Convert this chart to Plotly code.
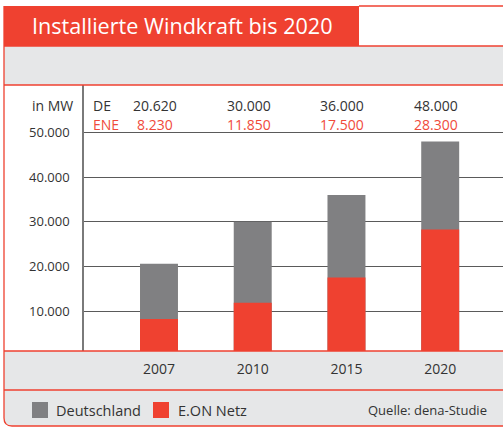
import plotly.graph_objects as go

years = ["2007", "2010", "2015", "2020"]
de_values = [20620, 30000, 36000, 48000]
ene_values = [8230, 11850, 17500, 28300]
de_labels = ["20.620", "30.000", "36.000", "48.000"]
ene_labels = ["8.230", "11.850", "17.500", "28.300"]
y_tickvals = [10000, 20000, 30000, 40000, 50000]
y_ticktext = ["10.000", "20.000", "30.000", "40.000", "50.000"]

W, H = 503, 427
RED = "#EF4130"
RED_TXT = "#F04A3B"
GRAYBAR = "#808082"
BAND = "#E6E7E8"
TXT = "#333333"
FONT = "Open Sans"


def px(x):
    return x / W


def py(y):
    return 1 - y / H


fig = go.Figure()
fig.add_trace(go.Bar(x=years, y=de_values, name="Deutschland", marker_color=GRAYBAR,
                     marker_line_width=0, width=0.405))
fig.add_trace(go.Bar(x=years, y=ene_values, name="E.ON Netz", marker_color=RED,
                     marker_line_width=0, width=0.405))

shapes = []
# title box
shapes.append(dict(type="rect", xref="paper", yref="paper", x0=px(4), x1=px(359), y0=py(46), y1=py(6),
                   fillcolor=RED, line_width=0, layer="below"))
# top gray band
shapes.append(dict(type="rect", xref="paper", yref="paper", x0=px(4), x1=px(503), y0=py(85), y1=py(46),
                   fillcolor=BAND, line_width=0, layer="below"))
# bottom gray band with rounded corner
path = (f"M{px(4)},{py(351)} L{px(503)},{py(351)} L{px(503)},{py(426)} "
        f"L{px(12)},{py(426)} Q{px(4)},{py(426)} {px(4)},{py(418)} Z")
shapes.append(dict(type="path", xref="paper", yref="paper", path=path, fillcolor=BAND, line_width=0,
                   layer="below"))
# red lines
for (x0, x1, y) in [(359, 503, 6), (4, 503, 46), (4, 503, 85), (4, 503, 351), (4, 503, 390)]:
    shapes.append(dict(type="line", xref="paper", yref="paper", x0=px(x0), x1=px(x1), y0=py(y), y1=py(y),
                       line=dict(color=RED, width=1.3)))
# left/bottom border
border = (f"M{px(4)},{py(6)} L{px(4)},{py(418)} Q{px(4)},{py(426)} {px(12)},{py(426)} "
          f"L{px(503)},{py(426)}")
shapes.append(dict(type="path", xref="paper", yref="paper", path=border, line=dict(color=RED, width=1.3)))
# legend squares
shapes.append(dict(type="rect", xref="paper", yref="paper", x0=px(32), x1=px(48), y0=py(418), y1=py(402),
                   fillcolor=GRAYBAR, line_width=0))
shapes.append(dict(type="rect", xref="paper", yref="paper", x0=px(153), x1=px(169), y0=py(418), y1=py(402),
                   fillcolor=RED, line_width=0))

ann = []
ann.append(dict(text="Installierte Windkraft bis 2020", x=px(30), y=py(26), xref="paper", yref="paper",
                xanchor="left", yanchor="middle", showarrow=False, font=dict(family=FONT, size=21.6, color="white")))
ann.append(dict(text="in MW", x=px(75), y=py(105), xref="paper", yref="paper", xanchor="right",
                yanchor="middle", showarrow=False, font=dict(family=FONT, size=14, color=TXT)))
ann.append(dict(text="DE", x=px(91), y=py(105), xref="paper", yref="paper", xanchor="left",
                yanchor="middle", showarrow=False, font=dict(family=FONT, size=14, color=TXT)))
ann.append(dict(text="ENE", x=px(91), y=py(124), xref="paper", yref="paper", xanchor="left",
                yanchor="middle", showarrow=False, font=dict(family=FONT, size=14, color=RED_TXT)))
for i, (dl, el) in enumerate(zip(de_labels, ene_labels)):
    ann.append(dict(text=dl, x=i, y=py(105), xref="x", yref="paper", xanchor="center", xshift=-4,
                    yanchor="middle", showarrow=False, font=dict(family=FONT, size=14, color=TXT)))
    ann.append(dict(text=el, x=i, y=py(124), xref="x", yref="paper", xanchor="center", xshift=-4,
                    yanchor="middle", showarrow=False, font=dict(family=FONT, size=14, color=RED_TXT)))
ann.append(dict(text="Deutschland", x=px(54), y=py(410), xref="paper", yref="paper", xanchor="left",
                yanchor="middle", showarrow=False, font=dict(family=FONT, size=14.5, color=TXT)))
ann.append(dict(text="E.ON Netz", x=px(176), y=py(410), xref="paper", yref="paper", xanchor="left",
                yanchor="middle", showarrow=False, font=dict(family=FONT, size=14.5, color=TXT)))
ann.append(dict(text="Quelle: dena-Studie", x=px(489), y=py(410), xref="paper", yref="paper",
                xanchor="right", yanchor="middle", showarrow=False, font=dict(family=FONT, size=13, color=TXT)))

fig.update_layout(
    width=W, height=H,
    margin=dict(l=0, r=0, t=0, b=0),
    paper_bgcolor="white", plot_bgcolor="rgba(0,0,0,0)",
    barmode="overlay", showlegend=False,
    shapes=shapes, annotations=ann,
    xaxis=dict(domain=[px(84), 1], type="category", range=[-0.8, 3.67], showgrid=False, showline=False,
               ticks="", tickfont=dict(family=FONT, size=14, color=TXT), ticklabelstandoff=8,
               fixedrange=True),
    yaxis=dict(domain=[py(351), py(85)], range=[1030, 60700], tickvals=y_tickvals, ticktext=y_ticktext,
               showgrid=True, gridcolor="#5a5a5a", gridwidth=1, zeroline=False,
               showline=True, linecolor="#7a7a7a", linewidth=1.5, ticks="",
               tickfont=dict(family=FONT, size=13, color=TXT), ticklabelstandoff=10, fixedrange=True),
)

fig.write_html("out.html")
